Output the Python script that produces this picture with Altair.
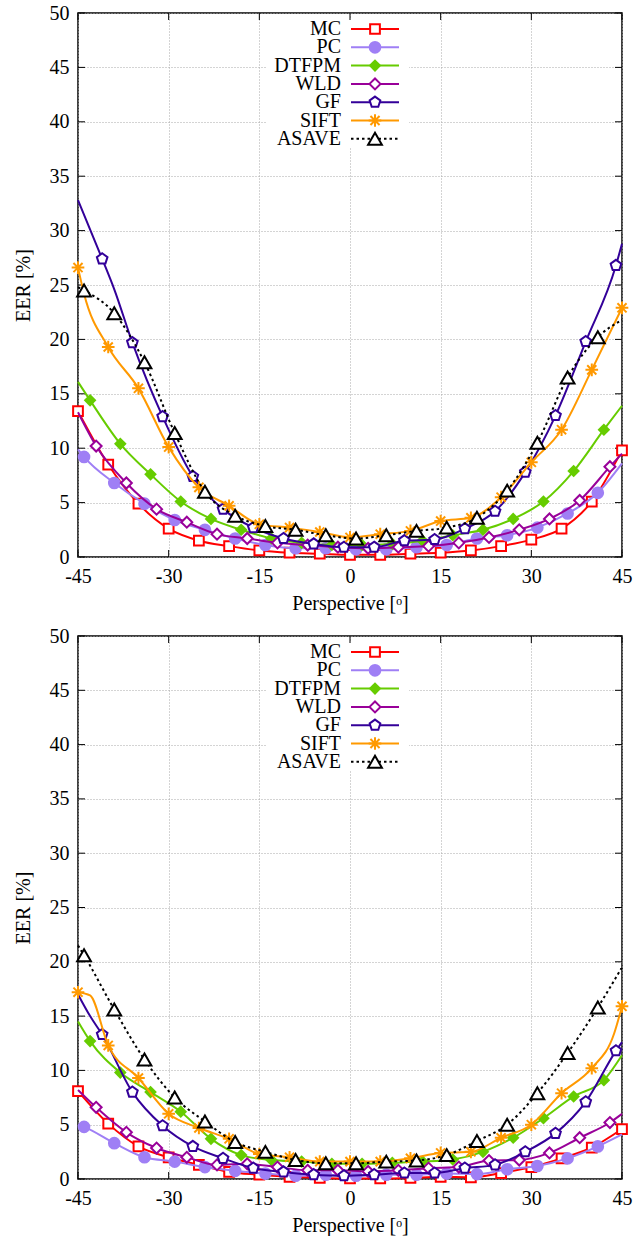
import altair as alt
import pandas as pd

FONT = "Liberation Serif"

SERIES = ["MC", "PC", "DTFPM", "WLD", "GF", "SIFT", "ASAVE"]
COLORS = {"MC": "#ff0000", "PC": "#9f7ff5", "DTFPM": "#66cc00", "WLD": "#990099",
          "GF": "#330099", "SIFT": "#ff9900", "ASAVE": "#000000"}
# first marker position of each series; markers repeat every 5 degrees
OFFSETS = {"MC": -45, "PC": -44, "DTFPM": -43, "WLD": -42, "GF": -41, "SIFT": -45, "ASAVE": -44}
STEP = 5

X_TICKS = [-45, -30, -15, 0, 15, 30, 45]
Y_TICKS = [0, 5, 10, 15, 20, 25, 30, 35, 40, 45, 50]

# ---------------- top panel (values at marker positions) ----------------
TOP_MC = [13.4, 8.5, 4.9, 2.6, 1.5, 1.0, 0.6, 0.4, 0.3, 0.2, 0.2, 0.3, 0.4, 0.6, 1.0, 1.6, 2.6, 5.1, 9.8]
TOP_PC = [9.2, 6.8, 4.9, 3.4, 2.5, 1.7, 1.1, 0.8, 0.8, 0.7, 0.7, 0.9, 1.1, 1.7, 2.0, 2.7, 4.0, 5.9]
TOP_DTFPM = [14.4, 10.4, 7.6, 5.1, 3.5, 2.5, 1.7, 1.3, 1.1, 1.1, 1.2, 1.5, 2.0, 2.5, 3.5, 5.1, 7.9, 11.7]
TOP_WLD = [10.2, 6.8, 4.4, 3.2, 2.1, 1.7, 1.3, 1.1, 0.9, 0.8, 0.9, 1.0, 1.3, 1.8, 2.5, 3.5, 5.2, 8.3]
TOP_GF = [27.4, 19.7, 12.9, 7.4, 4.4, 2.7, 1.7, 1.2, 0.9, 0.9, 1.5, 1.6, 2.6, 4.2, 7.8, 13.0, 19.8, 26.8]
TOP_SIFT = [26.6, 19.3, 15.5, 10.1, 6.4, 4.7, 3.0, 2.7, 2.3, 1.8, 2.1, 2.4, 3.3, 3.6, 5.5, 8.7, 11.7, 17.2, 22.9]
TOP_ASAVE = [24.5, 22.4, 17.9, 11.4, 6.0, 3.8, 2.85, 2.5, 2.0, 1.7, 2.0, 2.4, 2.7, 3.6, 6.1, 10.5, 16.5, 20.2]
# line values at -45 / +45 where no marker sits there
TOP_START = {"PC": 9.9, "DTFPM": 16.1, "WLD": 13.3, "GF": 32.8, "ASAVE": 24.8}
TOP_END = {"PC": 8.6, "DTFPM": 13.9, "WLD": 9.5, "GF": 28.8, "ASAVE": 21.8}
TOP_EXTRA = {"SIFT": [(-44, 24.2)], "GF": [(-39, 24.6)]}

# ---------------- bottom panel ----------------
BOT_MC = [8.1, 5.1, 3.0, 2.0, 1.3, 0.65, 0.4, 0.2, 0.1, 0.05, 0.05, 0.1, 0.2, 0.15, 0.55, 1.1, 1.9, 2.9, 4.6]
BOT_PC = [4.8, 3.3, 2.0, 1.6, 1.1, 0.75, 0.5, 0.3, 0.4, 0.3, 0.4, 0.4, 0.5, 0.45, 0.9, 1.2, 1.9, 3.0]
BOT_DTFPM = [12.7, 9.8, 8.0, 6.2, 3.7, 2.2, 1.75, 1.6, 1.4, 1.4, 1.5, 1.6, 1.8, 2.5, 3.8, 5.6, 7.6, 9.1]
BOT_WLD = [6.6, 4.3, 2.85, 2.0, 1.3, 1.4, 1.1, 0.8, 0.8, 0.7, 0.8, 1.0, 1.1, 1.7, 1.75, 2.4, 3.8, 5.2]
BOT_GF = [13.3, 8.0, 4.9, 3.0, 1.9, 1.0, 0.65, 0.4, 0.3, 0.4, 0.55, 0.55, 1.0, 1.3, 2.5, 4.2, 7.1, 11.8]
BOT_SIFT = [17.2, 12.3, 9.3, 6.0, 4.7, 3.7, 2.3, 2.0, 1.6, 1.6, 1.6, 1.9, 2.4, 2.5, 3.8, 5.0, 7.9, 10.2, 15.9]
BOT_ASAVE = [20.6, 15.6, 11.0, 7.5, 5.3, 3.4, 2.5, 1.75, 1.45, 1.45, 1.6, 1.7, 2.2, 3.5, 5.0, 7.9, 11.6, 15.8]
BOT_START = {"PC": 5.0, "DTFPM": 14.5, "WLD": 8.2, "GF": 17.0, "ASAVE": 21.5}
BOT_END = {"PC": 4.1, "DTFPM": 11.4, "WLD": 6.0, "GF": 12.6, "ASAVE": 19.5}
BOT_EXTRA = {"SIFT": [(-43, 16.9), (43.7, 13.4)], "GF": [(-43, 15.0)]}

TOP = {"MC": TOP_MC, "PC": TOP_PC, "DTFPM": TOP_DTFPM, "WLD": TOP_WLD,
       "GF": TOP_GF, "SIFT": TOP_SIFT, "ASAVE": TOP_ASAVE}
BOT = {"MC": BOT_MC, "PC": BOT_PC, "DTFPM": BOT_DTFPM, "WLD": BOT_WLD,
       "GF": BOT_GF, "SIFT": BOT_SIFT, "ASAVE": BOT_ASAVE}

PENTAGON = "M0,-1L0.951,-0.309L0.588,0.809L-0.588,0.809L-0.951,-0.309Z"
STAR = "M-1,0L1,0M0,-1L0,1M-0.72,-0.72L0.72,0.72M-0.72,0.72L0.72,-0.72"
MARK = {
    "MC": dict(shape="square", size=95, fill="white", filled=True, stroke=COLORS["MC"], strokeWidth=2),
    "PC": dict(shape="circle", size=160, fill=COLORS["PC"], filled=True, strokeWidth=0),
    "DTFPM": dict(shape="diamond", size=160, fill=COLORS["DTFPM"], filled=True, strokeWidth=0),
    "WLD": dict(shape="diamond", size=120, fill="white", filled=True, stroke=COLORS["WLD"], strokeWidth=2),
    "GF": dict(shape=PENTAGON, size=125, fill="white", filled=True, stroke=COLORS["GF"], strokeWidth=2),
    "SIFT": dict(shape=STAR, size=160, filled=False, stroke=COLORS["SIFT"], strokeWidth=2),
    "ASAVE": dict(shape="triangle-up", size=190, fill="white", filled=True, stroke=COLORS["ASAVE"], strokeWidth=2),
}
DASH = {"ASAVE": [2.5, 3]}

W = 544


def build_df(vals, start, end, extra):
    rows = []
    for s in SERIES:
        v = vals[s]
        xs = [OFFSETS[s] + STEP * k for k in range(len(v))]
        for x, y in zip(xs, v):
            rows.append({"series": s, "x": x, "y": y, "marker": True})
        if s in start:
            rows.append({"series": s, "x": -45, "y": start[s], "marker": False})
        if s in end:
            rows.append({"series": s, "x": 45, "y": end[s], "marker": False})
        for x, y in extra.get(s, []):
            rows.append({"series": s, "x": x, "y": y, "marker": False})
    return pd.DataFrame(rows)


AX_STYLE = dict(labelFont=FONT, labelFontSize=20, labelColor="black",
                titleFont=FONT, titleFontSize=20, titleFontWeight="normal", titleColor="black",
                grid=True, gridDash=[1, 2], gridColor="#a8a8a8", gridWidth=1,
                domain=False, ticks=False, labelFlush=False, labelOverlap=False)

X_ENC = alt.X("x:Q", scale=alt.Scale(domain=[-45, 45], nice=False, zero=False),
              axis=alt.Axis(values=X_TICKS, title="Perspective [ᵒ]", labelExpr="'' + datum.value",
                            labelPadding=9, titlePadding=7, **AX_STYLE))
Y_ENC = alt.Y("y:Q", scale=alt.Scale(domain=[0, 50], nice=False),
              axis=alt.Axis(values=Y_TICKS, title="EER [%]", labelPadding=9, titlePadding=16, **AX_STYLE))

DUMMY = pd.DataFrame({"k": [0]})
LEG_TEXT_X = 263
LEG_LINE_X1, LEG_LINE_X2 = 273, 321
LEG_MARK_X = 297
LEG_Y0, LEG_DY = 16, 18.3


def panel(vals, start, end, extra, h):
    df = build_df(vals, start, end, extra)
    layers = []
    # legend background box (hides grid under legend)
    layers.append(alt.Chart(DUMMY).mark_rect(color="white").encode(
        x=alt.value(188), x2=alt.value(331), y=alt.value(5), y2=alt.value(134)))
    # inward ticks on all four sides
    yt = pd.DataFrame({"y": Y_TICKS})
    xt = pd.DataFrame({"x": X_TICKS})
    layers.append(alt.Chart(yt).mark_rule(color="black", strokeWidth=1).encode(
        y=Y_ENC, x=alt.value(0), x2=alt.value(7)))
    layers.append(alt.Chart(yt).mark_rule(color="black", strokeWidth=1).encode(
        y=Y_ENC, x=alt.value(W - 7), x2=alt.value(W)))
    layers.append(alt.Chart(xt).mark_rule(color="black", strokeWidth=1).encode(
        x=X_ENC, y=alt.value(h), y2=alt.value(h - 7)))
    layers.append(alt.Chart(xt).mark_rule(color="black", strokeWidth=1).encode(
        x=X_ENC, y=alt.value(0), y2=alt.value(7)))
    for i, s in enumerate(SERIES):
        sub = df[df.series == s].sort_values("x")
        line_kw = dict(interpolate="monotone", stroke=COLORS[s], strokeWidth=2)
        if s in DASH:
            line_kw["strokeDash"] = DASH[s]
        layers.append(alt.Chart(sub).mark_line(**line_kw).encode(x=X_ENC, y=Y_ENC, order="x:Q"))
        layers.append(alt.Chart(sub[sub.marker]).mark_point(opacity=1, **MARK[s]).encode(x=X_ENC, y=Y_ENC))
        # legend entry
        ly = LEG_Y0 + LEG_DY * i
        layers.append(alt.Chart(DUMMY).mark_text(align="right", baseline="middle", font=FONT,
                                                fontSize=20, color="black", text=s).encode(
            x=alt.value(LEG_TEXT_X), y=alt.value(ly)))
        rule_kw = dict(stroke=COLORS[s], strokeWidth=2)
        if s in DASH:
            rule_kw["strokeDash"] = DASH[s]
        layers.append(alt.Chart(DUMMY).mark_rule(**rule_kw).encode(
            x=alt.value(LEG_LINE_X1), x2=alt.value(LEG_LINE_X2), y=alt.value(ly)))
        layers.append(alt.Chart(DUMMY).mark_point(opacity=1, **MARK[s]).encode(
            x=alt.value(LEG_MARK_X), y=alt.value(ly)))
    return alt.layer(*layers).properties(width=W, height=h)


top = panel(TOP, TOP_START, TOP_END, TOP_EXTRA, 544)
bottom = panel(BOT, BOT_START, BOT_END, BOT_EXTRA, 543)

chart = alt.vconcat(top, bottom, spacing=11).properties(
    padding={"left": 12, "top": 2, "right": 0, "bottom": 0},
    background="white",
).configure_view(
    stroke="black", strokeWidth=1.5
).configure_axis(**AX_STYLE)

chart.save("out.html", embed_options={"renderer": "svg", "actions": False})
